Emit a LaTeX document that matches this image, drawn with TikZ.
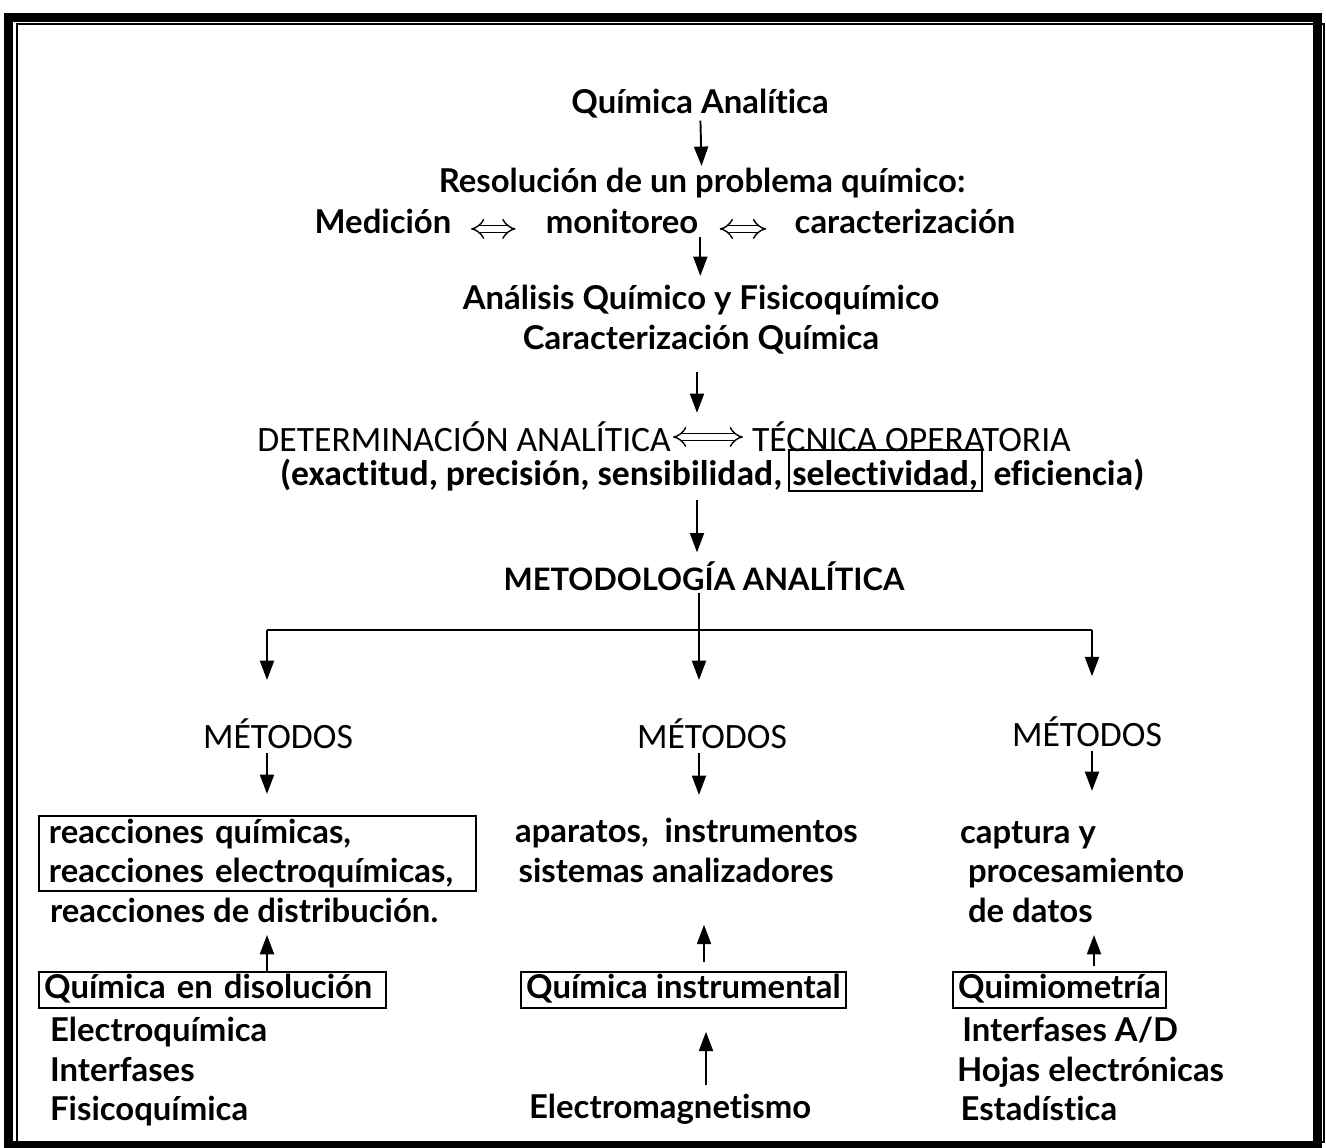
\documentclass[tikz,border=0pt]{standalone}
\usepackage{fontspec}
\setmainfont{Lato}[Ligatures=NoCommon]
\newfontfamily\calib{Carlito}[Ligatures=NoCommon]
\usetikzlibrary{positioning, arrows.meta}

\begin{document}
\begin{tikzpicture}[x=0.02cm, y=-0.02cm]
\tikzstyle{txt}=[font=\fontsize{18.7}{22.5}\selectfont\bfseries, inner sep=1pt]
\tikzstyle{cal}=[font=\fontsize{20.3}{24}\selectfont\calib, inner sep=1pt]
\tikzstyle{calb}=[font=\fontsize{20.3}{24}\selectfont\calib\bfseries, inner sep=1pt]
\tikzstyle{lst}=[txt, anchor=north west, align=left]
\tikzstyle{boxed}=[txt, draw, line width=1.1pt, anchor=north west, inner xsep=3pt, inner ysep=1pt, text height=14pt, text depth=4.5pt]
\tikzstyle{arr}=[-{Triangle[length=11pt, width=8pt]}, line width=1.1pt]
\tikzstyle{dbl}=[{Implies}-{Implies}, double, double distance=3.2pt, line width=0.8pt]
\useasboundingbox (0,0) rectangle (1326,1148);
% frame
\draw[line width=0.18cm] (8.5,17.5) rectangle (1317,1145.5);
\draw[line width=0.6pt] (17,24) rectangle (1324,1142);
\coordinate (axis) at (697,0);
% main chain
\node[txt] (qa) at (700,104) {Química Analítica};
\node[txt] (res) at (702,183) {Resolución de un problema químico:};
\node[txt] (med) at (383,221) {Medición};
\node[txt] (mon) at (622,221) {monitoreo};
\node[txt] (car) at (905,221) {caracterización};
\node[txt] (ana1) at (701,300) {Análisis Químico y Fisicoquímico};
\node[txt] (ana2) at (701,340) {Caracterización Química};
\node[cal, anchor=east] (det) at (673,437) {DETERMINACIÓN ANALÍTICA};
\node[cal, anchor=west] (tec) at (750,437) {TÉCNICA OPERATORIA};
\node[calb, draw, line width=1.1pt, anchor=north west, inner xsep=2pt, inner ysep=0pt, text height=20.3pt, text depth=3pt] (sel) at (788,449) {selectividad,};
\node[calb, anchor=base east] (prop1) at ([xshift=-2pt]sel.base west) {(exactitud, precisión, sensibilidad,};
\node[calb, anchor=base west] (prop2) at ([xshift=5pt]sel.base east) {eficiencia)};
\node[txt, font=\fontsize{17.6}{22}\selectfont\bfseries] (met) at (704,576) {METODOLOGÍA ANALÍTICA};
\node[cal] (m1) at (278,734) {MÉTODOS};
\node[cal] (m2) at (712,734) {MÉTODOS};
\node[cal] (m3) at (1087,732) {MÉTODOS};
% left column
\node[txt, draw, line width=1.1pt, anchor=north west, align=left, text width=8.34cm, inner xsep=0.2cm, minimum height=1.5cm] (rq) at (38,815) {reacciones químicas,\\reacciones electroquímicas,};
\node[txt, anchor=west] (rd) at (48,910) {reacciones de distribución.};
\node[boxed, text width=6.74cm, align=left] (qd) at (38,971) {Química en disolución};
\node[lst] (fq) at (48,1015) {Electroquímica\\Interfases\\Fisicoquímica};
% middle column
\node[lst] (apa) at (513,816) {aparatos,\ \ instrumentos\\\hspace*{2pt}sistemas analizadores};
\node[boxed] (qi) at (520,971) {Química instrumental};
\node[txt, anchor=west] (em) at (527,1109) {Electromagnetismo};
% right column
\node[lst] (cap) at (958,819) {captura y\\\hspace*{4.5pt}procesamiento\\\hspace*{4.5pt}de datos};
\node[boxed] (qm) at (952,971) {Quimiometría};
\node[lst] (herr) at (955,1015) {\hspace*{3pt}Interfases A/D\\Hojas electrónicas\\\hspace*{2pt}Estadística};
% connectors
\draw[arr] (qa) -- (res);
\draw[dbl, shorten <=10pt, shorten >=16pt] ([yshift=-4.5pt]med.east) -- ([yshift=-4.5pt]mon.west);
\draw[dbl, shorten <=11pt, shorten >=15pt] ([yshift=-4.5pt]mon.east) -- ([yshift=-4.5pt]car.west);
\draw[arr, shorten <=1pt, shorten >=4pt] (mon.south east) -- (ana1.north -| mon.south east);
\draw[arr, shorten <=9pt, shorten >=4pt] (ana2.south -| axis) -- (tec.north -| axis);
\draw[dbl, shorten >=4pt] (det.east) -- (tec.west);
\draw[arr, shorten <=4pt, shorten >=4pt] (prop1.south -| axis) -- (met.north -| axis);
\coordinate (bl) at (267,630);
\coordinate (bm) at (699,630);
\coordinate (br) at (1092,630);
\draw[line width=1.1pt] (bl) -- (br);
\draw[arr, shorten >=21pt] (met.south -| bm) -- (bm |- m2.north);
\draw[arr, shorten >=21pt] (bl) -- (bl |- m1.north);
\draw[arr, shorten >=22pt] (br) -- (br |- m3.north);
\draw[arr, shorten <=1pt, shorten >=12pt] (m1.south -| bl) -- (bl |- rq.north);
\draw[arr, shorten <=1pt, shorten >=12pt] (m2.south -| bm) -- (bm |- apa.north);
\draw[arr, shorten <=1pt, shorten >=16pt] (m3.south -| br) -- (br |- cap.north);
\draw[arr, shorten >=6pt] (qd.north -| bl) -- (bl |- rd.south);
\draw[arr, shorten <=5pt, shorten >=23pt] (qi.north -| 704,0) -- (apa.south -| 704,0);
\draw[arr, shorten <=4pt, shorten >=13pt] (em.north -| 706,0) -- (qi.south -| 706,0);
\draw[arr, shorten <=3pt, shorten >=6pt] (qm.north -| 1094,0) -- (cap.south -| 1094,0);
\end{tikzpicture}
\end{document}
